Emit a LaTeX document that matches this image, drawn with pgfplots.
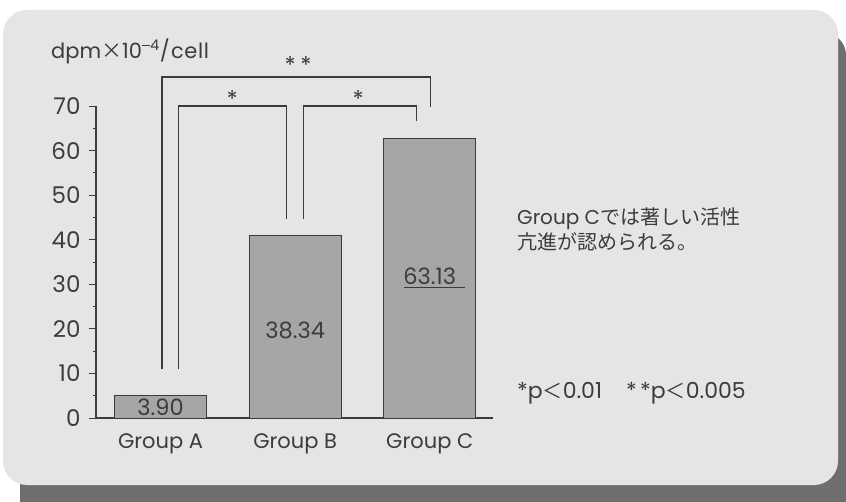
\documentclass[border=0pt]{standalone}
\usepackage{pgfplots}
\pgfplotsset{compat=1.18}
\usepackage{fontspec}
\setmainfont{Poppins}
\newfontfamily\cjk{Noto Sans CJK JP}
\definecolor{panel}{HTML}{E5E5E5}
\definecolor{shadowc}{HTML}{6E6E6E}
\definecolor{barc}{HTML}{A6A6A6}
\definecolor{ink}{HTML}{3C3C3C}
\begin{document}
\begin{tikzpicture}
\useasboundingbox (0pt,0pt) rectangle (846pt,501pt);
% shadow and panel
\fill[shadowc, rounded corners=22pt] (20pt,-30pt) rectangle (846pt,468pt);
\fill[panel, rounded corners=24pt] (3pt,16pt) rectangle (838pt,491pt);
\begin{axis}[
  at={(96pt,83pt)}, anchor=south west,
  scale only axis, width=397pt, height=312pt,
  xmin=-0.4796, xmax=2.47, ymin=0, ymax=70,
  axis x line=bottom, axis y line=left,
  axis line style={draw=ink, line width=1.1pt, -},
  xtick={0,1,2}, xticklabels={Group A, Group B, Group C},
  major x tick style={draw=none},
  ytick={0,10,...,70}, minor y tick num=1,
  tick align=outside,
  major tick length=7pt, minor tick length=3.5pt,
  every tick/.style={draw=ink, line width=1pt},
  /pgf/number format/assume math mode=true,
  yticklabel style={font=\fontsize{23}{23}\selectfont, text=ink, xshift=-5pt},
  xticklabel style={font=\fontsize{21}{21}\selectfont, text=ink, yshift=-5pt},
  clip=false,
]
\addplot[ybar, bar width=92pt, fill=barc, draw=ink, line width=1pt]
  coordinates {(0,5.0) (1,41.0) (2,62.75)};
% value labels
\node[text=ink, font=\fontsize{22.5}{22.5}\selectfont] at (axis cs:0,2.4) {3.90};
\node[text=ink, font=\fontsize{22.5}{22.5}\selectfont] at (axis cs:1,19.7) {38.34};
\node[text=ink, font=\fontsize{22.5}{22.5}\selectfont] at (axis cs:2,31.7) {63.13};
\draw[ink, line width=1pt] (axis cs:1.81,29.2) -- (axis cs:2.26,29.2);
% brackets
\draw[ink, line width=1.1pt] (axis cs:0.011,11.0) -- (axis cs:0.011,76.5) -- (axis cs:2.003,76.5) -- (axis cs:2.003,69.8);
\draw[ink, line width=1.1pt] (axis cs:0.130,11.0) -- (axis cs:0.130,70.0) -- (axis cs:0.933,70.0) -- (axis cs:0.933,44.6);
\draw[ink, line width=1.1pt] (axis cs:1.059,44.6) -- (axis cs:1.059,70.0) -- (axis cs:1.90,70.0) -- (axis cs:1.90,66.6);
\node[text=ink, font=\fontsize{23}{23}\selectfont] at (axis cs:0.532,71.6) {*};
\node[text=ink, font=\fontsize{23}{23}\selectfont] at (axis cs:1.468,71.6) {*};
\node[text=ink, font=\fontsize{23}{23}\selectfont] at (axis cs:1.022,79.2) {*\hspace{0.2em}*};
\end{axis}
% axis unit label
\node[anchor=west, text=ink, font=\fontsize{21}{21}\selectfont, inner sep=0pt] at (51pt,450pt) {dpm{\cjk ×}10\textsuperscript{\rule[0.32em]{0.55em}{0.07em}4}/\hspace{0.05em}c\hspace{0.03em}e\hspace{0.03em}l\hspace{0.03em}l};
% annotation
\node[anchor=west, align=left, text=ink, font=\fontsize{20}{25}\selectfont, inner sep=0pt] at (517pt,271.5pt) {Group C{\cjk では著しい活性}\\{\cjk 亢進が認められる。}};
\node[anchor=west, text=ink, font=\fontsize{22}{22}\selectfont, inner sep=0pt] at (517pt,108pt) {*p{\cjk\fontsize{20}{20}\selectfont ＜}0.01\hspace{1.1em}*\hspace{0.15em}*p{\cjk\fontsize{20}{20}\selectfont ＜}0.005};
\end{tikzpicture}
\end{document}
